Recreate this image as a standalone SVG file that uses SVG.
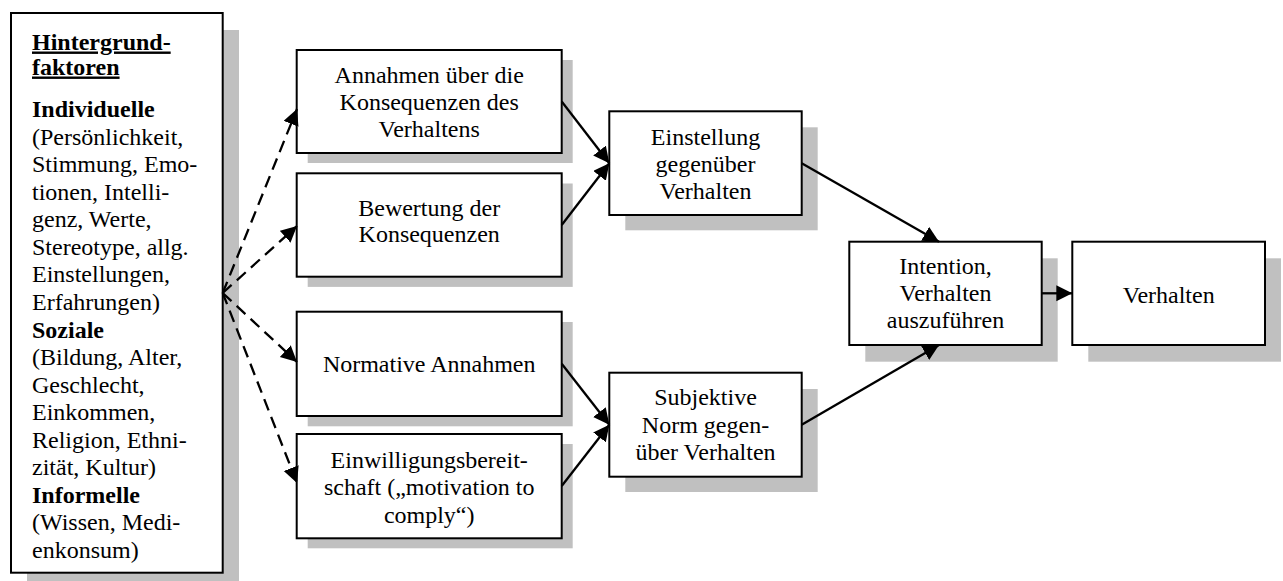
<svg xmlns="http://www.w3.org/2000/svg" width="1283" height="581" viewBox="0 0 1283 581">
  <style>
    .shadow { fill: #c0c0c0; }
    .box { fill: #ffffff; stroke: #000000; stroke-width: 2; }
    text { font-family: "Liberation Serif", "Times New Roman", serif; font-size: 24px; fill: #000000; }
    .c { text-anchor: middle; }
    .b { font-weight: bold; }
    .u { font-weight: bold; text-decoration: underline; }
    .edge { fill: none; stroke: #000000; stroke-width: 2.3; marker-end: url(#head); }
    .dash { stroke-dasharray: 12 7; }
  </style>
  <defs>
    <marker id="head" markerUnits="userSpaceOnUse" markerWidth="18" markerHeight="18" refX="16" refY="8" orient="auto">
      <path d="M0,0 L16,8 L0,16 Z" fill="#000000" stroke="none"/>
    </marker>
  </defs>

  <rect width="1283" height="581" fill="#ffffff"/>

  <!-- background factors -->
  <g id="hintergrund">
    <rect class="shadow" x="27" y="30" width="212" height="560"/>
    <rect class="box" x="11" y="13" width="211.7" height="559.7"/>
    <text x="32" y="49.5" class="u">Hintergrund-</text>
    <text x="32" y="74.5" class="u">faktoren</text>
    <text x="32" y="117" class="b">Individuelle</text>
    <text x="32" y="144.6">(Persönlichkeit,</text>
    <text x="32" y="172.1">Stimmung, Emo-</text>
    <text x="32" y="199.7">tionen, Intelli-</text>
    <text x="32" y="227.2">genz, Werte,</text>
    <text x="32" y="254.8">Stereotype, allg.</text>
    <text x="32" y="282.4">Einstellungen,</text>
    <text x="32" y="309.9">Erfahrungen)</text>
    <text x="32" y="337.5" class="b">Soziale</text>
    <text x="32" y="365">(Bildung, Alter,</text>
    <text x="32" y="392.6">Geschlecht,</text>
    <text x="32" y="420.2">Einkommen,</text>
    <text x="32" y="447.7">Religion, Ethni-</text>
    <text x="32" y="475.3">zität, Kultur)</text>
    <text x="32" y="502.8" class="b">Informelle</text>
    <text x="32" y="530.4">(Wissen, Medi-</text>
    <text x="32" y="558">enkonsum)</text>
  </g>

  <!-- beliefs and evaluations -->
  <g id="annahmen">
    <rect class="shadow" x="307.7" y="60" width="265" height="103"/>
    <rect class="box" x="296.7" y="50" width="265" height="103"/>
    <text x="429.2" y="82.7" class="c">Annahmen über die</text>
    <text x="429.2" y="110" class="c">Konsequenzen des</text>
    <text x="429.2" y="137.3" class="c">Verhaltens</text>
  </g>

  <g id="bewertung">
    <rect class="shadow" x="307.7" y="183.5" width="265" height="103.4"/>
    <rect class="box" x="296.7" y="173.3" width="265" height="103.4"/>
    <text x="429.2" y="215.7" class="c">Bewertung der</text>
    <text x="429.2" y="242.3" class="c">Konsequenzen</text>
  </g>

  <g id="normative">
    <rect class="shadow" x="307.7" y="322" width="265" height="104.3"/>
    <rect class="box" x="296.7" y="311.7" width="265" height="104.3"/>
    <text x="429.2" y="371.7" class="c">Normative Annahmen</text>
  </g>

  <g id="einwilligung">
    <rect class="shadow" x="307.7" y="444" width="265" height="104.3"/>
    <rect class="box" x="296.7" y="434" width="265" height="104.3"/>
    <text x="429.2" y="468" class="c">Einwilligungsbereit-</text>
    <text x="429.2" y="495.3" class="c">schaft („motivation to</text>
    <text x="429.2" y="522.7" class="c">comply“)</text>
  </g>

  <!-- attitude and subjective norm -->
  <g id="einstellung">
    <rect class="shadow" x="625.3" y="127.3" width="192.4" height="103"/>
    <rect class="box" x="609.3" y="111.3" width="192.4" height="103.7"/>
    <text x="705.5" y="145" class="c">Einstellung</text>
    <text x="705.5" y="171.7" class="c">gegenüber</text>
    <text x="705.5" y="198.7" class="c">Verhalten</text>
  </g>

  <g id="subjektive-norm">
    <rect class="shadow" x="625.3" y="389" width="192.4" height="103"/>
    <rect class="box" x="609.3" y="372.7" width="192.4" height="104"/>
    <text x="705.5" y="405.3" class="c">Subjektive</text>
    <text x="705.5" y="432.7" class="c">Norm gegen-</text>
    <text x="705.5" y="460" class="c">über Verhalten</text>
  </g>

  <!-- intention and behaviour -->
  <g id="intention">
    <rect class="shadow" x="865.3" y="258.3" width="192.4" height="103.4"/>
    <rect class="box" x="849.3" y="241.7" width="192.4" height="103.3"/>
    <text x="945.5" y="273.5" class="c">Intention,</text>
    <text x="945.5" y="301" class="c">Verhalten</text>
    <text x="945.5" y="328.3" class="c">auszuführen</text>
  </g>

  <g id="verhalten">
    <rect class="shadow" x="1088.3" y="258.3" width="192.7" height="103.4"/>
    <rect class="box" x="1072.3" y="241.7" width="192.7" height="103.3"/>
    <text x="1168.7" y="302.7" class="c">Verhalten</text>
  </g>

  <!-- connectors -->
  <g id="connectors">
    <path class="edge dash" d="M222.7,293 L297,109"/>
    <path class="edge dash" d="M222.7,293 L297,226"/>
    <path class="edge dash" d="M222.7,293 L297,362"/>
    <path class="edge dash" d="M222.7,293 L297,483"/>
    <path class="edge" d="M561.7,101.5 L609.3,163.2"/>
    <path class="edge" d="M561.7,225 L609.3,163.2"/>
    <path class="edge" d="M561.7,363.8 L609.3,424.7"/>
    <path class="edge" d="M561.7,486 L609.3,424.7"/>
    <path class="edge" d="M801.7,163.2 L939,241.7"/>
    <path class="edge" d="M801.7,424.7 L939,345"/>
    <path class="edge" d="M1041.7,293.3 L1072.3,293.3"/>
  </g>
</svg>
